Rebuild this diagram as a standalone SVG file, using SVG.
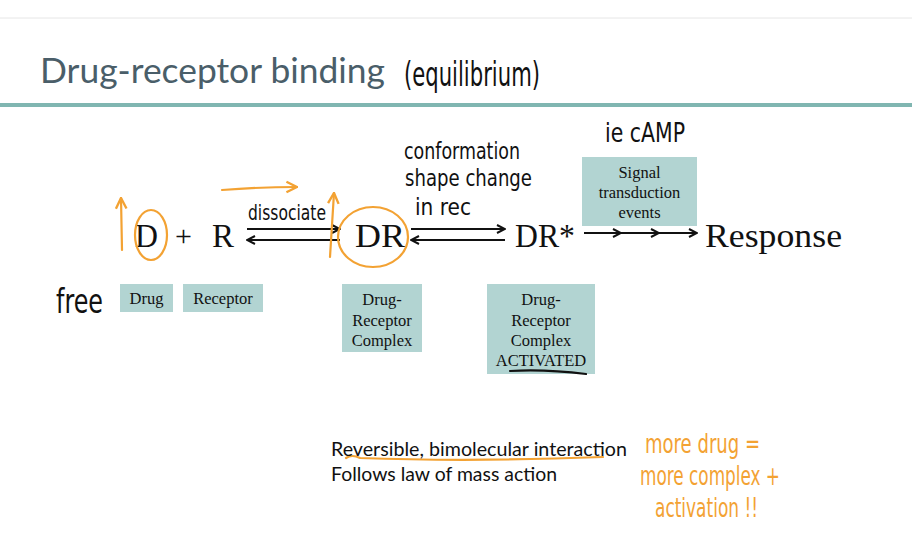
<svg xmlns="http://www.w3.org/2000/svg" width="912" height="559" viewBox="0 0 912 559">
<defs>
<style>
.serif{font-family:"Liberation Serif","DejaVu Serif",serif;fill:#111}
.box{fill:#b2d4d2}
.bt{font-family:"Liberation Serif","DejaVu Serif",serif;font-size:16.5px;fill:#111;text-anchor:middle}
.hand{font-family:"DejaVu Sans","Liberation Sans",sans-serif;fill:#111}
.orange{fill:#f3a233}
.ostroke{fill:none;stroke:#f3a233;stroke-width:2.2;stroke-linecap:round}
.arr{fill:none;stroke:#111;stroke-width:2;marker-end:url(#ah)}
.sans{font-family:Lato,"Open Sans",sans-serif;fill:#111}
</style>
<marker id="ah" viewBox="0 0 10 10" refX="9" refY="5" markerWidth="5" markerHeight="5" orient="auto" markerUnits="strokeWidth">
<path d="M1,1 L9,5 L1,9" fill="none" stroke="#111" stroke-width="2"/>
</marker>
<marker id="oh" viewBox="0 0 10 10" refX="9" refY="5" markerWidth="6" markerHeight="6" orient="auto" markerUnits="strokeWidth">
<path d="M1,1 L9,5 L1,9" fill="none" stroke="#f3a233" stroke-width="1.8"/>
</marker>
</defs>
<rect width="912" height="559" fill="#fff"/>
<line x1="0" y1="18" x2="912" y2="18" stroke="#e6e6e6" stroke-width="1"/>
<text x="40" y="83" font-family="Lato,'Open Sans',sans-serif" font-size="35" fill="#4a5e69" textLength="345" lengthAdjust="spacingAndGlyphs">Drug-receptor binding</text>
<text x="404" y="86" class="hand" font-size="34" textLength="136" lengthAdjust="spacingAndGlyphs">(equilibrium)</text>
<rect x="0" y="103" width="912" height="4" fill="#80b6b1"/>

<g id="connectors">
<line class="arr" x1="247" y1="229" x2="340" y2="229"/>
<line class="arr" x1="340" y1="240" x2="247" y2="240"/>
<line class="arr" x1="411" y1="229" x2="505" y2="229"/>
<line class="arr" x1="505" y1="240" x2="411" y2="240"/>
<line class="arr" x1="584" y1="233" x2="621" y2="233"/>
<line class="arr" x1="621" y1="233" x2="659" y2="233"/>
<line class="arr" x1="659" y1="233" x2="697" y2="233"/>
</g>

<g id="node-D"><text x="135" y="247" class="serif" font-size="34" textLength="23" lengthAdjust="spacingAndGlyphs">D</text></g>
<g id="node-plus"><text x="175" y="246" class="serif" font-size="30">+</text></g>
<g id="node-R"><text x="212" y="247" class="serif" font-size="34" textLength="22" lengthAdjust="spacingAndGlyphs">R</text></g>
<g id="node-DR"><text x="355" y="247" class="serif" font-size="34" textLength="50" lengthAdjust="spacingAndGlyphs">DR</text></g>
<g id="node-DRstar"><text x="515" y="247" class="serif" font-size="34" textLength="60" lengthAdjust="spacingAndGlyphs">DR*</text></g>
<g id="node-response"><text x="705" y="247" class="serif" font-size="34" textLength="137" lengthAdjust="spacingAndGlyphs">Response</text></g>

<g id="box-signal"><rect class="box" x="582" y="157" width="115" height="69"/>
<text class="bt" x="639.5" y="178">Signal</text><text class="bt" x="639.5" y="198">transduction</text><text class="bt" x="639.5" y="218">events</text></g>
<g id="box-drug"><rect class="box" x="120" y="284" width="53" height="28"/><text class="bt" x="146.5" y="304">Drug</text></g>
<g id="box-receptor"><rect class="box" x="183" y="284" width="80" height="28"/><text class="bt" x="223" y="304">Receptor</text></g>
<g id="box-complex"><rect class="box" x="342" y="284" width="80" height="68"/>
<text class="bt" x="382" y="305">Drug-</text><text class="bt" x="382" y="326">Receptor</text><text class="bt" x="382" y="346">Complex</text></g>
<g id="box-activated"><rect class="box" x="487" y="284" width="108" height="90"/>
<text class="bt" x="541" y="305">Drug-</text><text class="bt" x="541" y="326">Receptor</text><text class="bt" x="541" y="346">Complex</text><text class="bt" x="541" y="366">ACTIVATED</text></g>
<path d="M510,371 Q545,369 586,374" fill="none" stroke="#111" stroke-width="2.2" stroke-linecap="round"/>

<g id="notes-hand">
<text x="248" y="220" class="hand" font-size="21" textLength="78" lengthAdjust="spacingAndGlyphs">dissociate</text>
<text x="404" y="159" class="hand" font-size="23" textLength="116" lengthAdjust="spacingAndGlyphs">conformation</text>
<text x="405" y="186" class="hand" font-size="23" textLength="127" lengthAdjust="spacingAndGlyphs">shape change</text>
<text x="415" y="215" class="hand" font-size="23" textLength="56" lengthAdjust="spacingAndGlyphs">in rec</text>
<text x="605" y="142" class="hand" font-size="27" textLength="80" lengthAdjust="spacingAndGlyphs">ie cAMP</text>
<text x="56" y="313" class="hand" font-size="33" textLength="47" lengthAdjust="spacingAndGlyphs">free</text>
</g>

<g id="orange-marks">
<ellipse class="ostroke" cx="151" cy="235" rx="16" ry="25"/>
<ellipse class="ostroke" cx="373" cy="237" rx="35" ry="30"/>
<path class="ostroke" d="M122,250 L121,198" marker-end="url(#oh)"/>
<path class="ostroke" d="M330,257 Q332,225 334,193" marker-end="url(#oh)"/>
<path class="ostroke" d="M222,190 Q260,187 297,187" marker-end="url(#oh)"/>
<path class="ostroke" d="M346,458 Q352,454 360,458 Q470,462 603,457"/>
<text x="645" y="453" class="hand orange" font-size="26" textLength="115" lengthAdjust="spacingAndGlyphs">more drug =</text>
<text x="640" y="485" class="hand orange" font-size="26" textLength="140" lengthAdjust="spacingAndGlyphs">more complex +</text>
<text x="655" y="517" class="hand orange" font-size="26" textLength="103" lengthAdjust="spacingAndGlyphs">activation !!</text>
</g>

<text x="331" y="456" class="sans" font-size="19" textLength="296" lengthAdjust="spacingAndGlyphs">Reversible, bimolecular interaction</text>
<text x="331" y="481" class="sans" font-size="19" textLength="226" lengthAdjust="spacingAndGlyphs">Follows law of mass action</text>
</svg>
